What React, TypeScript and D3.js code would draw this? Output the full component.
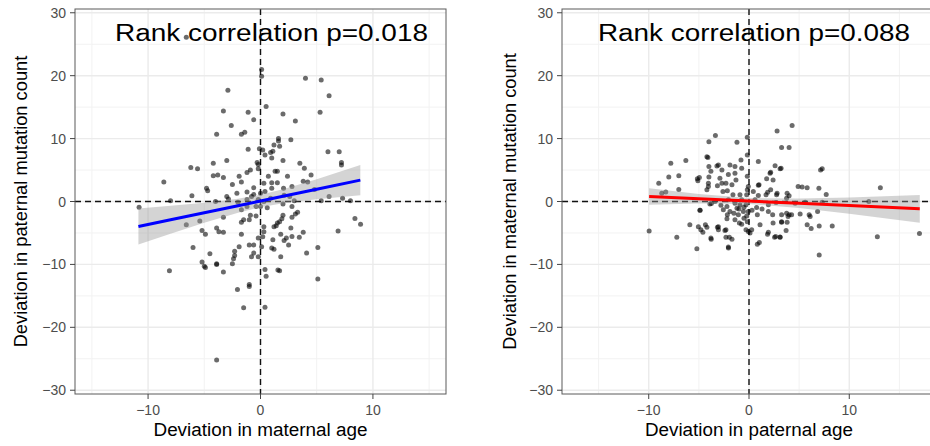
import React from 'react';
import * as d3 from 'd3';

// left panel: deviation in maternal age vs deviation in paternal mutation count
const leftPoints: [number, number][] = [
  [-6.6, 26.1], [0.1, 21.0], [0.1, 19.9], [4.0, 19.6], [5.4, 19.3], [6.1, 16.8], [-2.9, 17.7], [-3.3, 14.4],
  [-1.1, 14.2], [0.5, 15.1], [5.3, 14.2], [2.0, 13.9], [-2.6, 12.1], [-0.6, 13.0], [3.1, 12.8], [-3.9, 10.7],
  [-1.7, 10.7], [-1.4, 11.0], [1.6, 10.0], [1.6, 9.6], [2.7, 9.8], [1.2, 9.0], [1.7, 8.8], [-1.1, 8.3],
  [-0.1, 8.4], [0.2, 8.2], [0.9, 7.8], [1.1, 8.0], [0.4, 7.4], [6.0, 7.9], [7.0, 7.9], [1.0, 6.9],
  [2.0, 6.5], [-3.0, 6.5], [-4.2, 6.1], [-0.3, 6.2], [-0.2, 5.9], [3.5, 6.1], [7.2, 6.2], [7.2, 5.8],
  [-6.2, 5.4], [-5.6, 5.2], [3.9, 5.3], [-0.9, 5.0], [-0.2, 5.2], [1.3, 4.8], [-4.2, 4.1], [-3.8, 4.2],
  [-1.9, 4.0], [-1.2, 4.6], [0.7, 4.0], [1.5, 4.8], [2.4, 4.0], [4.5, 4.2], [-3.3, 3.8], [-1.7, 3.1],
  [0.3, 2.9], [1.0, 3.0], [1.5, 3.0], [3.8, 3.2], [4.2, 3.1], [-8.6, 3.1], [-2.5, 2.7], [-0.6, 2.2],
  [-4.8, 2.1], [-4.7, 1.7], [-2.1, 1.3], [-1.2, 1.5], [1.0, 2.1], [2.05, 2.1], [2.8, 2.4], [4.8, 1.9],
  [-6.1, 0.9], [-3.0, 0.8], [-0.8, 0.8], [0.0, 1.3], [0.4, 1.6], [2.1, 1.0], [6.1, 0.8], [7.3, 0.5],
  [-8.0, 0.1], [-4.0, 0.0], [-2.85, 0.4], [-2.0, -0.1], [-1.2, 0.3], [-0.6, 1.1], [-0.2, 0.3], [0.3, 0.0],
  [0.9, 0.5], [2.6, 0.8], [3.0, 0.1], [5.4, 0.1], [8.0, 0.1], [-10.8, -0.9], [-1.2, -0.8], [-0.4, -0.8],
  [0.6, -1.0], [0.0, -0.8], [2.0, -0.4], [2.8, -0.8], [-1.7, -1.3], [3.3, -1.7], [3.1, -2.0], [2.0, -2.2],
  [-5.4, -3.1], [-3.3, -2.5], [-1.7, -3.3], [-1.5, -2.9], [-1.0, -2.9], [-0.9, -2.2], [-0.4, -2.3], [1.9, -2.75],
  [2.8, -2.5], [1.7, -3.2], [1.5, -3.4], [-6.6, -3.7], [1.2, -4.0], [0.3, -4.0], [0.3, -4.8], [1.4, -3.85],
  [2.7, -4.2], [-3.9, -4.2], [-5.2, -4.6], [-4.9, -5.2], [-3.7, -4.8], [-3.3, -4.9], [0.2, -5.6], [1.8, -5.2],
  [3.8, -4.9], [6.9, -4.7], [-1.7, -5.2], [2.3, -5.8], [3.45, -5.7], [-0.2, -5.8], [2.1, -6.2], [2.8, -5.55],
  [1.1, -6.1], [-6.0, -7.3], [-1.9, -7.2], [-1.0, -6.9], [-0.6, -6.9], [0.1, -7.2], [1.0, -7.4], [1.2, -7.6],
  [2.5, -6.9], [5.1, -7.3], [8.4, -2.7], [8.9, -3.6], [-4.5, -8.3], [-2.3, -8.6], [-2.3, -7.9], [-0.6, -8.2],
  [-0.8, -8.8], [-0.2, -8.8], [1.8, -8.8], [4.1, -8.2], [-2.4, -9.1], [-2.5, -9.9], [-3.9, -9.9], [-3.9, -10.0],
  [-5.2, -9.6], [-5.0, -10.3], [-4.9, -10.5], [-8.1, -11.0], [-3.3, -11.2], [0.4, -10.8], [0.5, -11.9], [1.55, -10.9],
  [1.7, -11.0], [5.1, -12.3], [-2.05, -14.0], [-1.0, -13.2], [-1.0, -13.5], [-1.5, -16.9], [0.4, -16.8], [-3.9, -25.2],
];

// right panel: deviation in paternal age vs deviation in maternal mutation count
const rightPoints: [number, number][] = [
  [-9.96, -4.7], [-9.0, 2.9], [-8.3, 1.5], [-8.7, 1.3], [-8.0, 3.9], [-7.8, 6.1], [-7.0, 4.1], [-7.0, 1.9],
  [-7.2, -5.7], [-6.3, 6.5], [-5.9, -3.7], [-5.2, -7.5], [-5.15, 3.6], [-4.95, 3.8], [-4.9, -1.4], [-5.05, -4.0],
  [-4.8, -4.5], [-4.6, -4.9], [-4.35, -3.7], [-4.0, 9.5], [-3.35, 10.5], [-4.1, 7.0], [-4.0, 5.55], [-4.0, 3.9],
  [-4.05, 2.9], [-3.8, 4.8], [-4.05, 2.4], [-4.2, 1.85], [-3.75, -0.3], [-3.4, 0.0], [-3.9, -0.4], [-3.8, -5.8],
  [-3.05, 5.8], [-2.9, 3.7], [-3.15, 2.5], [-2.7, 5.0], [-2.7, 2.9], [-2.6, 1.6], [-3.05, -4.0], [-3.05, -4.5],
  [-2.3, 2.9], [-2.06, 4.3], [-1.9, 5.8], [-1.4, 5.55], [-1.4, 4.5], [-1.3, 3.4], [-2.16, 1.7], [-2.06, 0.26],
  [-2.2, -0.8], [-2.56, -1.3], [-1.9, -1.6], [-2.16, -2.1], [-2.2, -2.75], [-2.3, -4.5], [-1.96, -5.7], [-2.06, -7.25],
  [-1.7, 2.65], [-1.6, 1.06], [-1.4, -0.26], [-1.2, -1.06], [-1.5, -1.85], [-1.06, -2.1], [-1.4, -2.9], [-0.96, -3.4],
  [-0.8, 6.6], [-0.73, 5.3], [-0.9, 1.06], [-0.73, 0.26], [-0.9, -0.5], [-0.56, -1.6], [-0.5, -2.65], [-0.73, -3.6],
  [-1.2, 9.4], [-0.17, 10.2], [-0.17, 7.4], [-0.17, 4.0], [-0.07, 2.4], [-0.17, 1.85], [-0.23, 1.06], [-0.3, -0.5],
  [-0.07, -1.6], [-0.23, -2.3], [-0.17, -3.2], [-0.3, -4.5], [-0.07, -4.76], [0.27, -4.5], [0.1, -5.0], [0.43, 1.6],
  [0.6, 0.26], [0.93, 6.35], [1.0, 2.65], [0.93, 0.95], [0.76, -0.95], [0.83, -2.1], [1.1, -3.7], [1.03, -6.5],
  [0.83, -6.8], [1.76, 3.6], [1.7, 1.06], [1.86, 1.48], [1.93, -0.5], [1.93, -1.6], [2.16, 4.66], [2.16, 1.85],
  [2.4, 3.4], [2.6, 5.7], [2.8, 11.2], [2.75, 1.06], [2.8, 1.3], [2.7, -0.16], [2.36, -2.1], [2.4, -3.4],
  [1.93, -4.87], [2.66, -5.55], [3.1, -5.7], [3.25, -3.2], [3.25, -2.1], [4.3, 12.1], [3.25, 8.6], [4.0, 8.6],
  [3.2, 5.3], [7.0, -8.5], [7.14, 5.0], [7.3, 5.2], [4.9, 2.4], [5.3, 2.3], [5.8, 2.2], [6.97, 2.1],
  [7.7, 1.1], [3.8, 1.3], [4.0, 0.9], [3.75, 0.5], [4.6, -0.26], [5.6, -0.1], [5.1, -2.0], [6.0, -2.1],
  [6.1, -2.4], [5.8, -3.7], [6.2, -4.3], [7.0, -3.9], [6.84, -1.6], [7.3, -0.1], [8.3, -3.9], [3.75, -1.85],
  [3.9, -2.4], [4.0, -2.1], [3.8, -3.3], [4.25, -2.1], [3.25, -3.3], [3.7, -4.6], [3.1, -5.66], [11.95, 0.0],
  [13.1, 2.2], [12.8, -5.6], [17.0, -5.1], [-5.1, 3.3], [-4.2, 7.1], [-3.2, 5.65], [-3.77, -6.0], [-4.2, -4.1],
  [-3.15, -4.1], [-2.4, -4.6], [-2.05, -7.4], [-1.7, -6.0], [-2.3, -5.7], [0.93, 2.6], [2.1, 4.5], [3.1, 5.2],
  [1.85, -5.2], [2.55, -5.7], [-4.87, -1.4], [-1.0, -1.2], [-0.5, -0.9], [0.3, -1.4], [1.3, -1.2], [-2.8, -0.6],
];

// geom_smooth (lm) line and 95% band
const leftSmoothX = [-10.86, -8, -5, -2, 0, 2, 5, 8.88];
const leftSmoothFit = [-3.97, -2.9, -1.79, -0.67, 0.08, 0.83, 1.95, 3.4];
const leftSmoothLo = [-6.83, -5.11, -3.37, -1.77, -0.91, -0.27, 0.37, 1.0];
const leftSmoothHi = [-1.11, -0.69, -0.21, 0.43, 1.07, 1.93, 3.53, 5.8];

const rightSmoothX = [-9.96, -5, 0, 5, 10, 17.03];
const rightSmoothFit = [0.79, 0.43, 0.07, -0.29, -0.65, -1.16];
const rightSmoothLo = [-0.51, -0.32, -0.41, -1.04, -1.95, -3.36];
const rightSmoothHi = [2.09, 1.18, 0.55, 0.46, 0.65, 1.04];

const majorTicks = [-30, -20, -10, 0, 10, 20, 30];
const minorTicks = [-25, -15, -5, 5, 15, 25];
const xMajorTicks = [-10, 0, 10];
const xMinorTicks = [-15, -5, 5, 15];

const FONT = 'Liberation Sans, Arial, Helvetica, sans-serif';
const TOP = 9;
const BOTTOM = 394;

type PanelProps = {
  left: number;
  right: number;
  xDomain: [number, number];
  points: [number, number][];
  sx: number[];
  fit: number[];
  lo: number[];
  hi: number[];
  color: string;
  title: string;
  titleX: number;
  titleW: number;
  xLabel: string;
  xLabelW: number;
  yLabel: string;
  yLabelX: number;
};

const fmt = (t: number) => (t < 0 ? '\u2212' + Math.abs(t) : String(t));

const Panel = (p: PanelProps) => {
  const x = d3.scaleLinear().domain(p.xDomain).range([p.left, p.right]);
  const y = d3.scaleLinear().domain([-30.6, 30.6]).range([BOTTOM, TOP]);

  const band = d3.area<number>()
    .x((_, i) => x(p.sx[i]))
    .y0((_, i) => y(p.lo[i]))
    .y1((_, i) => y(p.hi[i]));
  const line = d3.line<number>()
    .x((_, i) => x(p.sx[i]))
    .y((d) => y(d));

  const clipId = 'clip' + p.left;

  return (
    <g>
      <defs>
        <clipPath id={clipId}>
          <rect x={p.left} y={TOP} width={p.right - p.left} height={BOTTOM - TOP} />
        </clipPath>
      </defs>
      <g clipPath={`url(#${clipId})`}>
        {minorTicks.map(t => (
          <line key={'ym' + t} x1={p.left} x2={p.right} y1={y(t)} y2={y(t)} stroke="#f2f2f2" strokeWidth={1} />
        ))}
        {xMinorTicks.map(t => (
          <line key={'xm' + t} x1={x(t)} x2={x(t)} y1={TOP} y2={BOTTOM} stroke="#f2f2f2" strokeWidth={1} />
        ))}
        {majorTicks.map(t => (
          <line key={'yM' + t} x1={p.left} x2={p.right} y1={y(t)} y2={y(t)} stroke="#ebebeb" strokeWidth={1.4} />
        ))}
        {xMajorTicks.map(t => (
          <line key={'xM' + t} x1={x(t)} x2={x(t)} y1={TOP} y2={BOTTOM} stroke="#ebebeb" strokeWidth={1.4} />
        ))}
        <line x1={p.left} x2={p.right} y1={y(0)} y2={y(0)} stroke="#111" strokeWidth={1.4} strokeDasharray="6,4" />
        <line x1={x(0)} x2={x(0)} y1={TOP} y2={BOTTOM} stroke="#111" strokeWidth={1.4} strokeDasharray="6,4" />
        {p.points.map((d, i) => (
          <circle key={i} cx={x(d[0])} cy={y(d[1])} r={2.5} fill="#000" fillOpacity={0.58} />
        ))}
        <path d={band(p.fit) || ''} fill="#999" fillOpacity={0.42} />
        <path d={line(p.fit) || ''} fill="none" stroke={p.color} strokeWidth={3} />
      </g>
      <rect x={p.left} y={TOP} width={p.right - p.left} height={BOTTOM - TOP} fill="none" stroke="#5a5a5a" strokeWidth={1} />
      {majorTicks.map(t => (
        <g key={'yt' + t}>
          <line x1={p.left - 5} x2={p.left} y1={y(t)} y2={y(t)} stroke="#444" />
          <text x={p.left - 9} y={y(t)} dy="0.36em" textAnchor="end" fontSize={14} fill="#4d4d4d" fontFamily={FONT}>
            {fmt(t)}
          </text>
        </g>
      ))}
      {xMajorTicks.map(t => (
        <g key={'xt' + t}>
          <line x1={x(t)} x2={x(t)} y1={BOTTOM} y2={BOTTOM + 5} stroke="#444" />
          <text x={x(t)} y={BOTTOM + 21} textAnchor="middle" fontSize={14} fill="#4d4d4d" fontFamily={FONT}>
            {fmt(t)}
          </text>
        </g>
      ))}
      <text x={x(0)} y={436} textAnchor="middle" fontSize={18} fill="#000" fontFamily={FONT}
        textLength={p.xLabelW} lengthAdjust="spacingAndGlyphs">{p.xLabel}</text>
      <text transform={`translate(${p.yLabelX},${(TOP + BOTTOM) / 2}) rotate(-90)`} textAnchor="middle" fontSize={18.3}
        fill="#000" fontFamily={FONT}>{p.yLabel}</text>
      <text x={p.titleX} y={41} fontSize={23.5} fill="#000" fontFamily={FONT}
        textLength={p.titleW} lengthAdjust="spacingAndGlyphs">{p.title}</text>
    </g>
  );
};

export default function App() {
  return (
    <svg width={930} height={446} style={{ position: 'absolute', left: 0, top: 0, background: '#fff' }}>
      <rect width={930} height={446} fill="#fff" />
      <Panel left={75} right={446} xDomain={[-16.5, 16.5]} points={leftPoints}
        sx={leftSmoothX} fit={leftSmoothFit} lo={leftSmoothLo} hi={leftSmoothHi} color="#0000ff"
        title="Rank correlation p=0.018" titleX={115} titleW={313}
        xLabel="Deviation in maternal age" xLabelW={214}
        yLabel="Deviation in paternal mutation count" yLabelX={27} />
      <Panel left={562} right={936} xDomain={[-18.65, 18.65]} points={rightPoints}
        sx={rightSmoothX} fit={rightSmoothFit} lo={rightSmoothLo} hi={rightSmoothHi} color="#ff0000"
        title="Rank correlation p=0.088" titleX={598} titleW={312}
        xLabel="Deviation in paternal age" xLabelW={208}
        yLabel="Deviation in maternal mutation count" yLabelX={516} />
    </svg>
  );
}
